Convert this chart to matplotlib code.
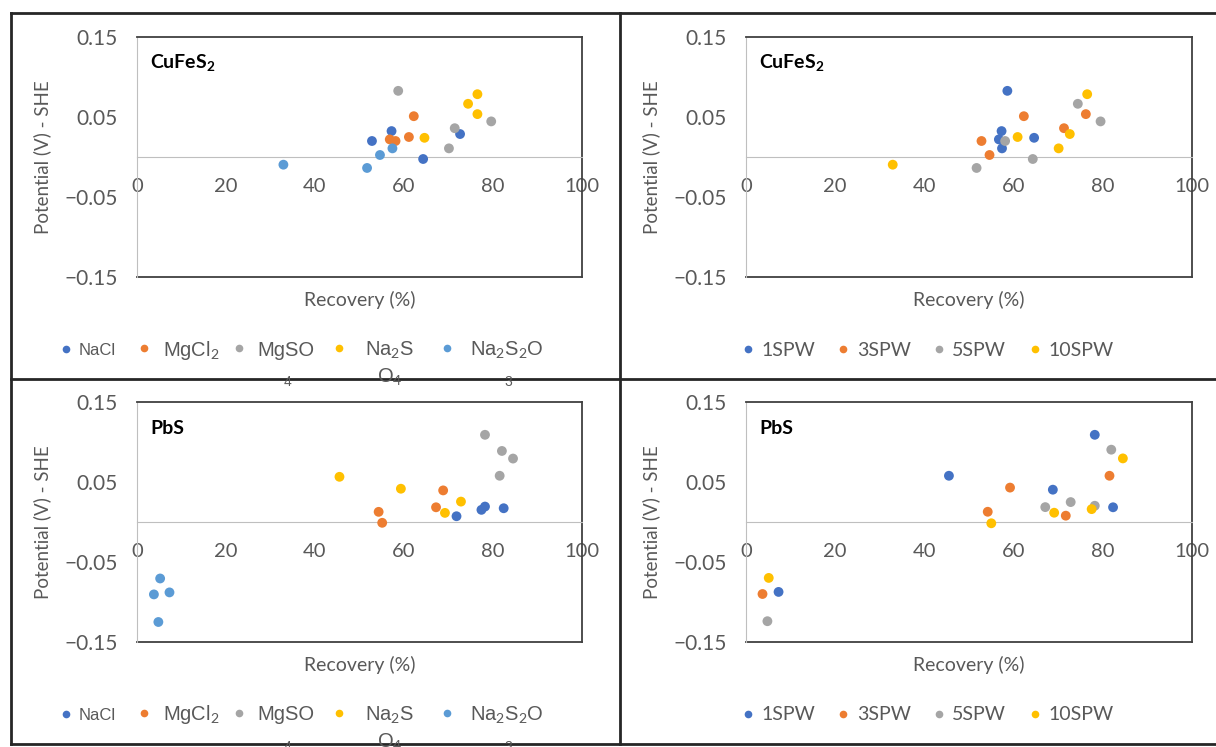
import matplotlib.pyplot as plt
from matplotlib.lines import Line2D

plt.rcParams['font.family'] = ['Lato', 'DejaVu Sans']
plt.rcParams['mathtext.fontset'] = 'custom'
plt.rcParams['mathtext.rm'] = 'Lato'
plt.rcParams['mathtext.bf'] = 'Lato:bold'

blue = '#4472C4'
orange = '#ED7D31'
gray = '#A5A5A5'
yellow = '#FFC000'
lblue = '#5B9BD5'
txt = '#595959'

# CuFeS2 by salt
cu_nacl_x = [52.8, 57.2, 72.6, 64.3]
cu_nacl_y = [0.020, 0.0324, 0.0287, -0.0025]
cu_mgcl_x = [62.2, 61.1, 56.8, 58.1]
cu_mgcl_y = [0.051, 0.025, 0.022, 0.020]
cu_mgso_x = [58.7, 71.4, 79.6, 70.1]
cu_mgso_y = [0.0827, 0.036, 0.0445, 0.0108]
cu_na2so4_x = [76.5, 74.4, 76.5, 64.6]
cu_na2so4_y = [0.0785, 0.0665, 0.0536, 0.024]
cu_na2s2o3_x = [32.9, 51.7, 54.6, 57.4]
cu_na2s2o3_y = [-0.0096, -0.0137, 0.0025, 0.0108]

# CuFeS2 by water
cu_1spw_x = [58.6, 57.3, 56.7, 57.4, 64.6]
cu_1spw_y = [0.0827, 0.0324, 0.022, 0.0108, 0.024]
cu_3spw_x = [62.3, 52.8, 54.6, 71.3, 76.2]
cu_3spw_y = [0.051, 0.020, 0.0025, 0.036, 0.0536]
cu_5spw_x = [58.1, 51.7, 64.3, 74.4, 79.5]
cu_5spw_y = [0.020, -0.0137, -0.0025, 0.0665, 0.0445]
cu_10spw_x = [76.5, 32.9, 60.9, 72.6, 70.1]
cu_10spw_y = [0.0785, -0.0096, 0.025, 0.0287, 0.0108]

# PbS by salt
pb_nacl_x = [71.8, 77.4, 78.2, 82.4]
pb_nacl_y = [0.0072, 0.0152, 0.0193, 0.0172]
pb_mgcl_x = [68.8, 67.2, 54.3, 55.1]
pb_mgcl_y = [0.0395, 0.0184, 0.0127, -0.001]
pb_mgso_x = [78.2, 82.0, 84.5, 81.5]
pb_mgso_y = [0.109, 0.0888, 0.0793, 0.0578]
pb_na2so4_x = [45.5, 59.3, 72.8, 69.2]
pb_na2so4_y = [0.0565, 0.0416, 0.0255, 0.0114]
pb_na2s2o3_x = [5.2, 3.8, 7.3, 4.8]
pb_na2s2o3_y = [-0.0706, -0.0905, -0.088, -0.125]

# PbS by water
pb_1spw_x = [78.2, 45.5, 68.8, 82.3, 7.3]
pb_1spw_y = [0.109, 0.0578, 0.0404, 0.0184, -0.0874]
pb_3spw_x = [59.2, 81.5, 54.2, 71.7, 3.7]
pb_3spw_y = [0.043, 0.0578, 0.0128, 0.0079, -0.090]
pb_5spw_x = [81.9, 67.1, 72.8, 78.2, 4.8]
pb_5spw_y = [0.0904, 0.0186, 0.0249, 0.0203, -0.124]
pb_10spw_x = [84.5, 69.1, 77.5, 55.0, 5.1]
pb_10spw_y = [0.0795, 0.0116, 0.0161, -0.0016, -0.0699]

# legend labels (the salt names wrap onto a second line in the original)
salt_labels = ['NaCl', r'MgCl$_2$', 'MgSO', r'Na$_2$S', r'Na$_2$S$_2$O']
salt_wrap = ['', '', '4', r'O$_4$', '3']
water_labels = ['1SPW', '3SPW', '5SPW', '10SPW']
salt_colors = [blue, orange, gray, yellow, lblue]
water_colors = [blue, orange, gray, yellow]

W, H = 1216, 747
fig = plt.figure(figsize=(W / 100, H / 100), dpi=100)


def add_ax(l, t, r, b):
    return fig.add_axes([l / W, 1 - b / H, (r - l) / W, (b - t) / H])


def style(ax, title):
    ax.set_xlim(0, 100)
    ax.set_ylim(-0.15, 0.15)
    ax.set_xticks([0, 20, 40, 60, 80, 100])
    ax.set_yticks([-0.15, -0.05, 0.05, 0.15])
    ax.set_yticklabels(['\u22120.15', '\u22120.05', '0.05', '0.15'])
    ax.spines['bottom'].set_position(('data', 0))
    ax.spines['bottom'].set_color('#BFBFBF')
    ax.spines['left'].set_color('#BFBFBF')
    for s in ['top', 'right']:
        ax.spines[s].set_color('#404040')
        ax.spines[s].set_linewidth(1.3)
    ax.plot([0, 1], [0, 0], transform=ax.transAxes, color='#404040', lw=1.3, clip_on=False)
    ax.tick_params(axis='x', length=0, pad=15, labelsize=14.5, labelcolor=txt)
    ax.tick_params(axis='y', length=0, pad=14, labelsize=15, labelcolor=txt)
    ax.set_xlabel('Recovery (%)', fontsize=14, color=txt)
    ax.set_ylabel('Potential (V) - SHE', fontsize=13.5, color=txt)
    ax.xaxis.set_label_coords(0.5, -0.058)
    ax.yaxis.set_label_coords(-0.193, 0.5)
    ax.text(0.03, 0.89, title, transform=ax.transAxes, fontsize=14,
            fontweight='bold', color='black', va='center')


ms = 50

ax1 = add_ax(137, 37, 582, 277)
for xs, ys, c in zip([cu_nacl_x, cu_mgcl_x, cu_mgso_x, cu_na2so4_x, cu_na2s2o3_x],
                     [cu_nacl_y, cu_mgcl_y, cu_mgso_y, cu_na2so4_y, cu_na2s2o3_y], salt_colors):
    ax1.scatter(xs, ys, s=ms, color=c, edgecolors='none', zorder=3)
style(ax1, r'CuFeS$_\mathbf{2}$')

ax2 = add_ax(746, 37, 1192, 277)
for xs, ys, c in zip([cu_1spw_x, cu_3spw_x, cu_5spw_x, cu_10spw_x],
                     [cu_1spw_y, cu_3spw_y, cu_5spw_y, cu_10spw_y], water_colors):
    ax2.scatter(xs, ys, s=ms, color=c, edgecolors='none', zorder=3)
style(ax2, r'CuFeS$_\mathbf{2}$')

ax3 = add_ax(137, 402, 582, 642)
for xs, ys, c in zip([pb_nacl_x, pb_mgcl_x, pb_mgso_x, pb_na2so4_x, pb_na2s2o3_x],
                     [pb_nacl_y, pb_mgcl_y, pb_mgso_y, pb_na2so4_y, pb_na2s2o3_y], salt_colors):
    ax3.scatter(xs, ys, s=ms, color=c, edgecolors='none', zorder=3)
style(ax3, 'PbS')

ax4 = add_ax(746, 402, 1192, 642)
for xs, ys, c in zip([pb_1spw_x, pb_3spw_x, pb_5spw_x, pb_10spw_x],
                     [pb_1spw_y, pb_3spw_y, pb_5spw_y, pb_10spw_y], water_colors):
    ax4.scatter(xs, ys, s=ms, color=c, edgecolors='none', zorder=3)
style(ax4, 'PbS')


def legend_item(label, color, mx, my, tx, fs, family='Lato'):
    # one legend entry: marker centred at mx, text starting at tx (pixels)
    em = fs * 100 / 72
    h = Line2D([], [], ls='none', marker='o', ms=5.5, color=color, mec='none')
    fig.legend([h], [label], loc='center left', bbox_to_anchor=((mx - 0.4 * em) / W, 1 - my / H),
               frameon=False, borderpad=0, borderaxespad=0, handlelength=0.8,
               handletextpad=(tx - mx - 0.4 * em) / em, labelcolor=txt,
               prop={'family': family, 'size': fs})


salt_mx = [66, 144, 239, 339, 447]
salt_tx = [79, 163, 257, 365, 470]
salt_fs = [12, 14.5, 14.5, 14.5, 14.5]
wrap_x = [0, 0, 287, 390, 508]
water_mx = [748, 843, 939, 1035]
water_tx = [761, 857, 952, 1048]

for yc in [350, 715]:
    for lab, c, mx, tx, fs, wl, wx in zip(salt_labels, salt_colors, salt_mx, salt_tx,
                                          salt_fs, salt_wrap, wrap_x):
        legend_item(lab, c, mx, yc, tx, fs, family='Liberation Sans')
        if wl:
            small = len(wl) == 1
            fig.text(wx / W, 1 - (yc + (32 if small else 27)) / H, wl, family='Liberation Sans',
                     fontsize=10 if small else 14.5, color=txt, ha='center', va='center', zorder=5)
    for lab, c, mx, tx in zip(water_labels, water_colors, water_mx, water_tx):
        legend_item(lab, c, mx, yc, tx, 14)

# panel frame lines
frame = dict(color='#262626', lw=2, zorder=1)
for (x0, y0, x1, y1) in [(11, 13, 1216, 13), (11, 744, 1216, 744), (11, 13, 11, 744),
                         (620, 13, 620, 744), (11, 379, 1216, 379)]:
    fig.add_artist(Line2D([x0 / W, x1 / W], [1 - y0 / H, 1 - y1 / H], **frame))

fig.savefig('out.png', dpi=100)
